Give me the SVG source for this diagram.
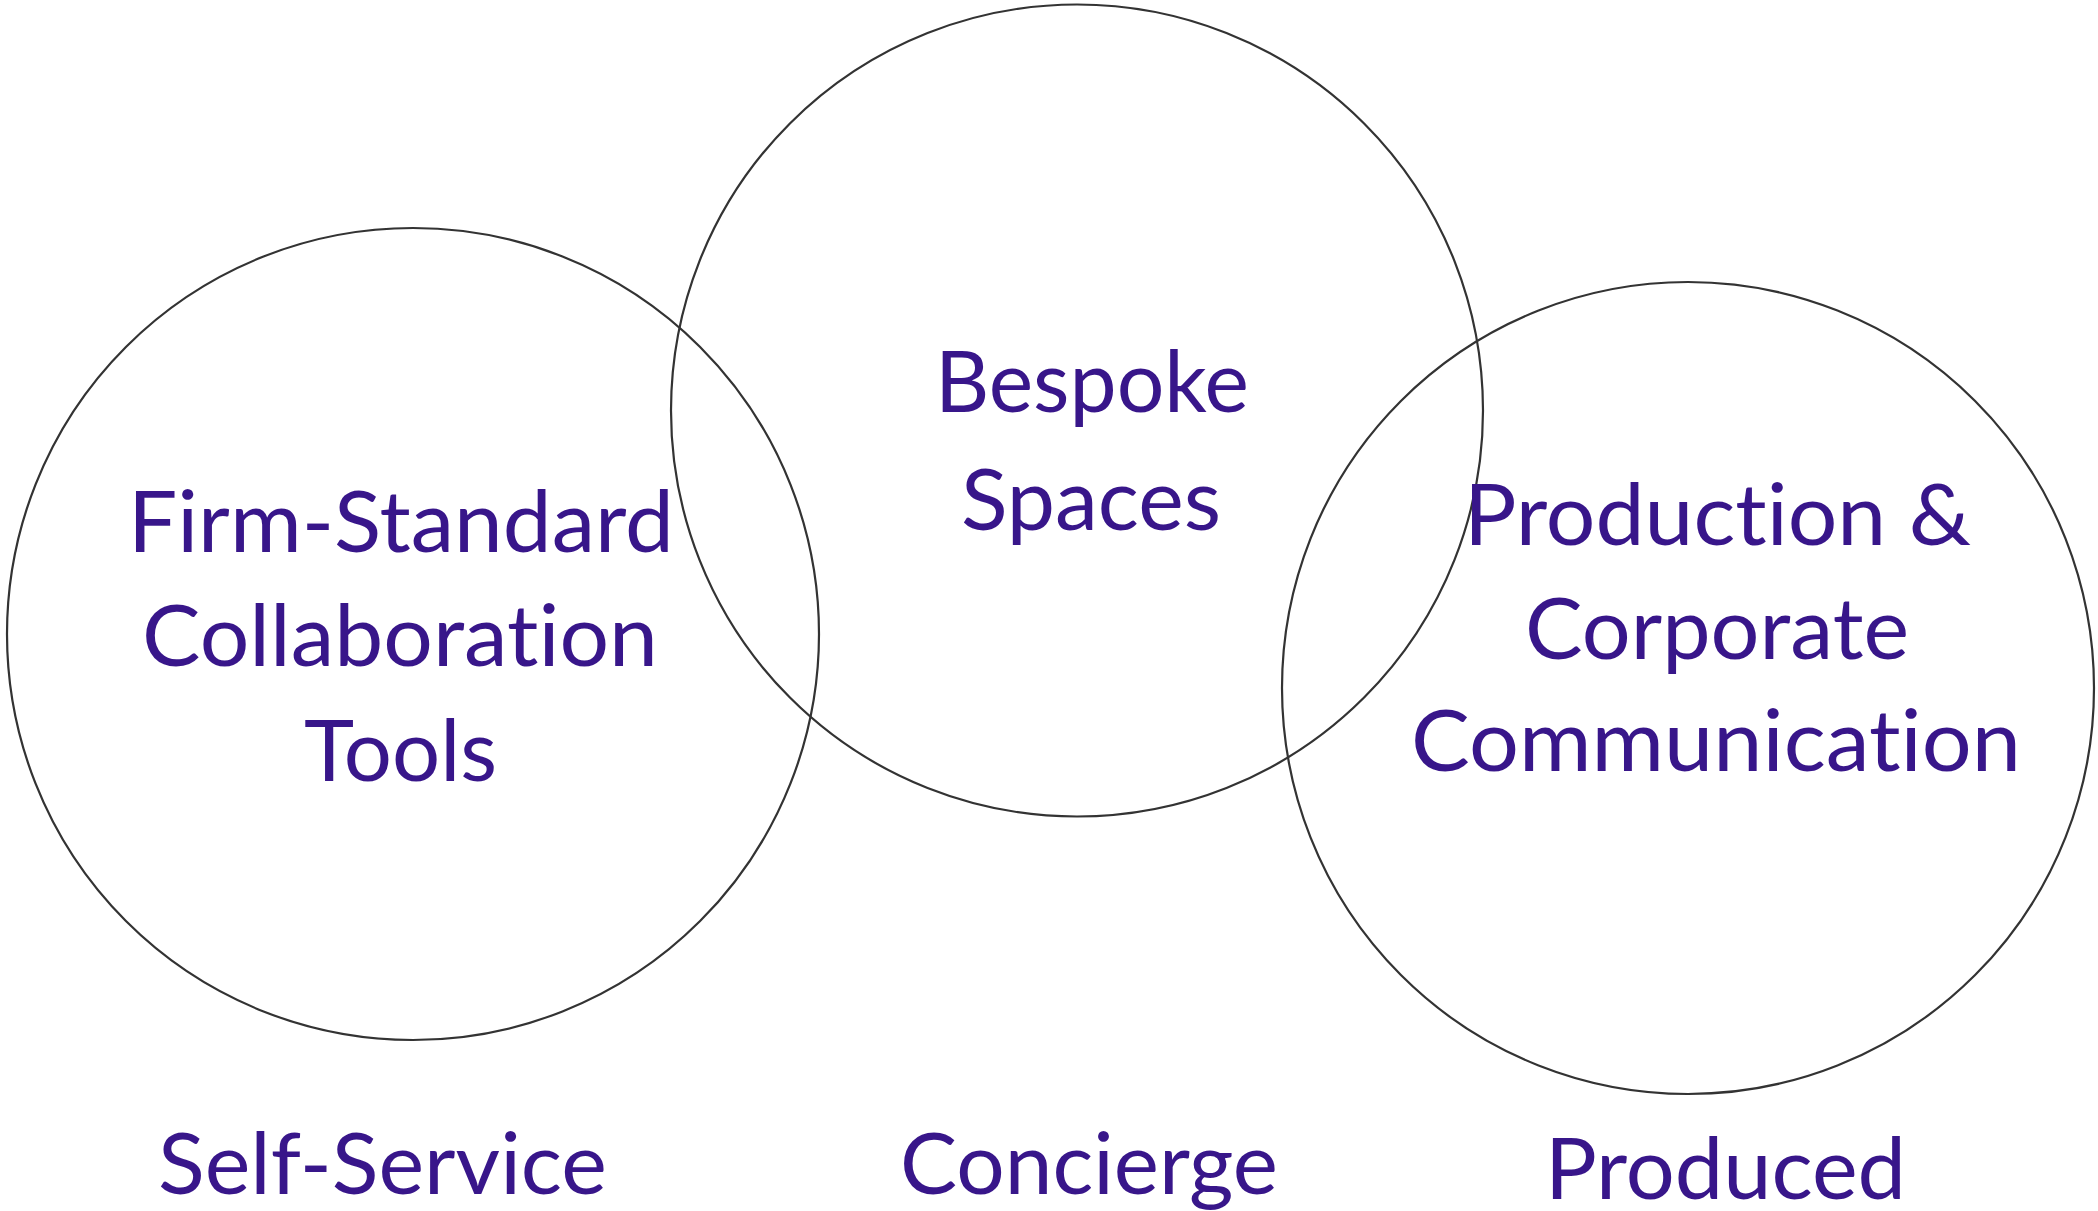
<svg xmlns="http://www.w3.org/2000/svg" width="2098" height="1211" viewBox="0 0 2098 1211">
<style>
.c{fill:none;stroke:#333333;stroke-width:2.2}
.t{font-family:Lato,"Liberation Sans",sans-serif;font-size:85px;fill:#38168a;font-variant-ligatures:none;font-feature-settings:"liga" 0,"clig" 0}
</style>
<rect width="2098" height="1211" fill="#ffffff"/>
<g id="connectors"/>
<g id="node-left">
<circle class="c" cx="413" cy="634" r="406"/>
<text class="t" x="128" y="552" textLength="546" lengthAdjust="spacingAndGlyphs">Firm-Standard</text>
<text class="t" x="142" y="666" textLength="516" lengthAdjust="spacingAndGlyphs">Collaboration</text>
<text class="t" x="304" y="781" textLength="193" lengthAdjust="spacingAndGlyphs">Tools</text>
</g>
<g id="node-middle">
<circle class="c" cx="1077" cy="410.5" r="406"/>
<text class="t" x="935" y="412" textLength="314" lengthAdjust="spacingAndGlyphs">Bespoke</text>
<text class="t" x="961" y="530" textLength="260" lengthAdjust="spacingAndGlyphs">Spaces</text>
</g>
<g id="node-right">
<circle class="c" cx="1688" cy="688" r="406"/>
<text class="t" x="1464" y="545" textLength="507" lengthAdjust="spacingAndGlyphs">Production &amp;</text>
<text class="t" x="1525" y="659" textLength="384" lengthAdjust="spacingAndGlyphs">Corporate</text>
<text class="t" x="1411" y="771" textLength="610" lengthAdjust="spacingAndGlyphs">Communication</text>
</g>
<g id="labels">
<text class="t" x="158" y="1194" textLength="449" lengthAdjust="spacingAndGlyphs">Self-Service</text>
<text class="t" x="900" y="1194" textLength="378" lengthAdjust="spacingAndGlyphs">Concierge</text>
<text class="t" x="1545" y="1199" textLength="361" lengthAdjust="spacingAndGlyphs">Produced</text>
</g>
</svg>
